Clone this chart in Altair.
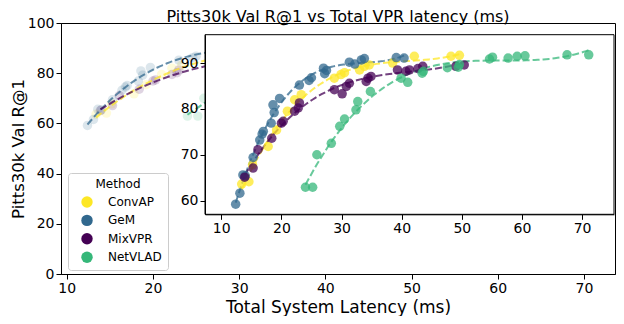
import altair as alt
import pandas as pd

methods = ["ConvAP", "GeM", "MixVPR", "NetVLAD"]
palette = ["#fde725", "#31688e", "#440154", "#35b779"]

convap_latency = [13.4, 14.6, 15.2, 17.8, 19.2, 21.0, 22.2, 23.3, 28.8, 29.9, 30.5, 33.0, 33.8, 34.6, 38.5, 42.1, 48.2, 49.6]
convap_recall = [63.6, 64.1, 67.8, 71.8, 75.4, 79.5, 82.0, 83.1, 86.7, 87.5, 87.9, 88.5, 89.3, 89.6, 90.0, 91.5, 91.5, 91.7]

gem_latency = [12.4, 13.1, 13.6, 14.0, 15.3, 16.4, 16.8, 17.0, 18.3, 18.8, 18.6, 19.7, 23.0, 24.6, 25.0, 27.0, 27.5, 27.2, 31.3, 32.2, 33.3, 33.8, 39.1, 40.4]
gem_recall = [59.2, 61.6, 65.6, 65.4, 69.4, 73.2, 74.5, 75.1, 76.9, 79.2, 80.9, 82.3, 85.2, 86.2, 86.8, 88.9, 88.4, 87.7, 90.2, 89.8, 90.7, 91.0, 91.2, 91.1]

mixvpr_latency = [13.9, 15.3, 16.1, 18.4, 20.0, 20.3, 22.2, 22.8, 23.0, 28.8, 30.1, 30.8, 31.3, 34.1, 34.4, 34.9, 39.3, 40.7, 41.3, 42.7, 43.5, 49.0, 50.4]
mixvpr_recall = [65.1, 67.1, 71.1, 73.6, 76.9, 77.3, 79.5, 80.2, 81.3, 84.2, 83.3, 84.9, 85.6, 86.0, 86.7, 87.1, 88.5, 88.2, 88.5, 88.8, 89.3, 89.3, 89.6]

netvlad_latency = [24.0, 25.2, 25.9, 28.3, 29.7, 30.5, 32.4, 32.7, 34.8, 39.9, 41.0, 43.4, 43.6, 47.6, 49.4, 49.6, 54.6, 55.1, 57.7, 59.2, 60.5, 67.5, 71.1]
netvlad_recall = [62.9, 62.9, 70.0, 72.5, 76.2, 77.8, 79.8, 81.6, 83.8, 86.7, 85.8, 87.8, 88.2, 89.0, 89.1, 89.7, 90.9, 91.3, 91.1, 91.5, 91.6, 91.8, 91.8]

main_x_ticks = [10, 20, 30, 40, 50, 60, 70]
main_y_ticks = [0, 20, 40, 60, 80, 100]
inset_x_ticks = [10, 20, 30, 40, 50, 60, 70]
inset_y_ticks = [60, 70, 80, 90]

series = [
    ("ConvAP", convap_latency, convap_recall),
    ("GeM", gem_latency, gem_recall),
    ("MixVPR", mixvpr_latency, mixvpr_recall),
    ("NetVLAD", netvlad_latency, netvlad_recall),
]
df = pd.concat(
    [pd.DataFrame({"method": n, "latency": xs, "recall": ys}) for n, xs, ys in series],
    ignore_index=True,
)

FONT = "DejaVu Sans"
color_scale = alt.Scale(domain=methods, range=palette)

main_x = alt.Scale(domain=[9.33, 73.6], nice=False, zero=False)
main_y = alt.Scale(domain=[0, 100], nice=False, zero=False)
ins_x = alt.Scale(domain=[7.3, 75.3], range=[144, 553], nice=False, zero=False)
ins_y = alt.Scale(domain=[57, 96.2], range=[191.3, 11.7], nice=False, zero=False)

legend = alt.Legend(
    title="Method", orient="none", legendX=7, legendY=150, direction="vertical",
    fillColor="white", strokeColor="#cccccc", cornerRadius=3, padding=6,
    symbolType="circle", symbolSize=130, symbolOpacity=1, symbolStrokeWidth=0,
    symbolOffset=7, labelOffset=15, rowPadding=6.4, titlePadding=5,
    titleAnchor="middle", titleFont=FONT, titleFontSize=12, titleFontWeight="normal",
    labelFont=FONT, labelFontSize=12, labelColor="black", titleColor="black",
)

base = alt.Chart(df)
fit = base.transform_regression(
    "latency", "recall", groupby=["method"], method="poly", order=3
)

main_pts = base.mark_circle(size=90, opacity=0.17).encode(
    x=alt.X("latency:Q", scale=main_x,
            axis=alt.Axis(orient="bottom", values=main_x_ticks,
                          title="Total System Latency (ms)", titlePadding=4)),
    y=alt.Y("recall:Q", scale=main_y,
            axis=alt.Axis(orient="left", values=main_y_ticks,
                          title="Pitts30k Val R@1", titlePadding=1, titleFontSize=16.5)),
    color=alt.Color("method:N", scale=color_scale, legend=legend),
)
main_fit = fit.mark_line(strokeDash=[7, 3], strokeWidth=2, opacity=0.75).encode(
    x=alt.X("latency:Q", scale=main_x, axis=None),
    y=alt.Y("recall:Q", scale=main_y, axis=None),
    color=alt.Color("method:N", scale=color_scale, legend=None),
)

box = alt.Chart(pd.DataFrame({"k": [0]})).mark_rect(
    fill="white", stroke="black", strokeWidth=1
).encode(
    x=alt.XDatum(7.3, type="quantitative", scale=ins_x, axis=None),
    x2=alt.X2Datum(75.3),
    y=alt.YDatum(57, type="quantitative", scale=ins_y, axis=None),
    y2=alt.Y2Datum(96.2),
)
ins_fit = fit.mark_line(strokeDash=[7, 3], strokeWidth=2, opacity=0.75).encode(
    x=alt.X("latency:Q", scale=ins_x, axis=None),
    y=alt.Y("recall:Q", scale=ins_y, axis=None),
    color=alt.Color("method:N", scale=color_scale, legend=None),
)
ins_pts = base.mark_circle(size=90, opacity=0.75).encode(
    x=alt.X("latency:Q", scale=ins_x,
            axis=alt.Axis(orient="bottom", offset=-59.7, values=inset_x_ticks,
                          title=None, zindex=1)),
    y=alt.Y("recall:Q", scale=ins_y,
            axis=alt.Axis(orient="left", offset=-144, values=inset_y_ticks,
                          title=None, zindex=1)),
    color=alt.Color("method:N", scale=color_scale, legend=None),
)

chart = alt.layer(main_pts, main_fit, box, ins_fit, ins_pts).resolve_scale(
    x="independent", y="independent"
).properties(
    width=554, height=251,
    title=alt.TitleParams(
        "Pitts30k Val R@1 vs Total VPR latency (ms)", font=FONT, fontSize=16,
        fontWeight="normal", color="black", anchor="middle", frame="group",
        baseline="alphabetic", offset=-5, dy=16.5,
    ),
    autosize=alt.AutoSizeParams(type="none"),
    padding={"left": 53, "top": 15, "right": 1, "bottom": 42},
).configure(font=FONT).configure_view(
    stroke="black", strokeWidth=1
).configure_axis(
    labelFont=FONT, labelFontSize=14, labelColor="black",
    titleFont=FONT, titleFontSize=17, titleFontWeight="normal", titleColor="black",
    tickColor="black", tickSize=5, tickWidth=1, domainColor="black", domainWidth=1,
    grid=False, labelPadding=2,
)

chart.save("out.html", embed_options={"renderer": "svg", "actions": False})
